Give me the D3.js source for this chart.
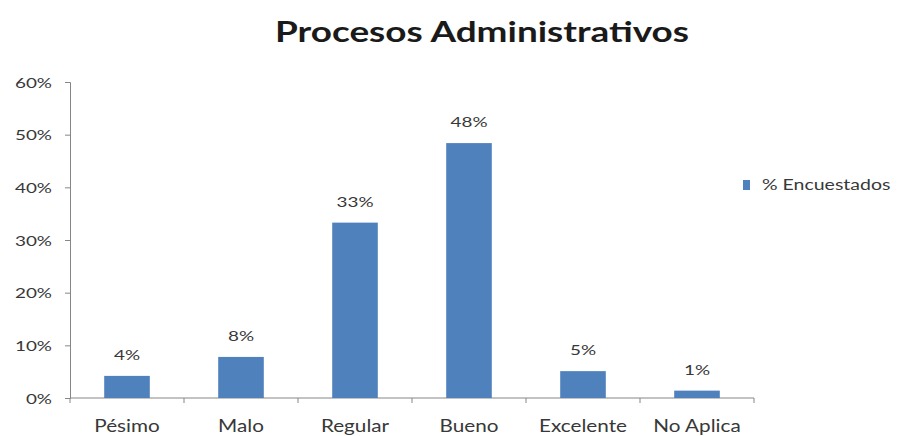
<!DOCTYPE html>
<html>
<head>
<meta charset="utf-8">
<script src="https://cdn.jsdelivr.net/npm/d3@7"></script>
<style>
  html, body { margin: 0; padding: 0; background: #ffffff; }
  svg { display: block; font-family: Lato, "Open Sans", sans-serif; }
</style>
</head>
<body>
<svg id="chart" width="899" height="436"></svg>
<script>
// Survey results: share of respondents per rating
const categories = ["Pésimo", "Malo", "Regular", "Bueno", "Excelente", "No Aplica"];
const respondentShare = [0.042, 0.078, 0.333, 0.484, 0.051, 0.014];
const yTicks = [0, 0.1, 0.2, 0.3, 0.4, 0.5, 0.6];
const seriesName = "% Encuestados";
const chartTitle = "Procesos Administrativos";

const svg = d3.select("#chart");
const textColor = "#383838";
const axisColor = "#868686";
const barColor = "#4f81bd";

const x = d3.scaleBand().domain(categories).range([70, 754]).padding(0);
const y = d3.scaleLinear().domain([0, 0.6]).range([398, 82]);
const pct = d3.format(".0%");

// Places a text at (px, py) with a wide, horizontally stretched face
function wideText(sel, px, py, sx) {
  sel.attr("x", 0).attr("y", 0)
    .attr("transform", function (d, i) {
      const tx = typeof px === "function" ? px(d, i) : px;
      const ty = typeof py === "function" ? py(d, i) : py;
      return `translate(${tx},${ty}) scale(${sx},1)`;
    });
}

// Title
svg.append("text")
  .attr("x", 482).attr("y", 42)
  .attr("text-anchor", "middle")
  .attr("font-size", 29).attr("font-weight", "bold")
  .attr("fill", "#1a1a1a")
  .attr("textLength", 414).attr("lengthAdjust", "spacingAndGlyphs")
  .text(chartTitle);

// Y axis
const yAxis = svg.append("g")
  .attr("transform", "translate(70,0)")
  .call(d3.axisLeft(y).tickValues(yTicks).tickFormat(pct).tickSize(5).tickPadding(13));
yAxis.select(".domain").attr("stroke", axisColor);
yAxis.selectAll(".tick line").attr("stroke", axisColor);
yAxis.selectAll(".tick text")
  .attr("font-family", "Lato, sans-serif").attr("font-size", 14).attr("fill", textColor)
  .attr("dy", "0.36em")
  .call(wideText, -18, 0, 1.35);

// X axis with ticks between categories
const xAxis = svg.append("g")
  .attr("transform", "translate(0,398)");
xAxis.append("line")
  .attr("x1", 70).attr("x2", 754)
  .attr("stroke", axisColor);
const boundaries = categories.map(c => x(c)).concat([x.range()[1]]);
xAxis.selectAll("line.tick")
  .data(boundaries)
  .join("line")
  .attr("class", "tick")
  .attr("x1", d => d).attr("x2", d => d)
  .attr("y1", 0).attr("y2", 5)
  .attr("stroke", axisColor);
xAxis.selectAll("text.cat")
  .data(categories)
  .join("text")
  .attr("class", "cat")
  .attr("text-anchor", "middle")
  .attr("font-size", 18)
  .attr("fill", textColor)
  .text(d => d)
  .call(wideText, d => x(d) + x.bandwidth() / 2, 34, 1.15);

// Bars
const barW = x.bandwidth() * 0.4;
const data = categories.map((c, i) => ({ cat: c, v: respondentShare[i] }));
svg.append("g").selectAll("rect")
  .data(data)
  .join("rect")
  .attr("x", d => x(d.cat) + (x.bandwidth() - barW) / 2)
  .attr("y", d => y(d.v))
  .attr("width", barW)
  .attr("height", d => y(0) - y(d.v))
  .attr("fill", barColor);

// Value labels
svg.append("g").selectAll("text")
  .data(data)
  .join("text")
  .attr("text-anchor", "middle")
  .attr("font-size", 14)
  .attr("fill", textColor)
  .text(d => pct(d.v))
  .call(wideText, d => x(d.cat) + x.bandwidth() / 2, d => y(d.v) - 16, 1.35);

// Legend
const legend = svg.append("g").attr("transform", "translate(743,180)");
legend.append("rect")
  .attr("x", 0).attr("y", 0).attr("width", 7).attr("height", 10)
  .attr("fill", barColor);
legend.append("text")
  .attr("font-size", 15)
  .attr("fill", textColor)
  .text(seriesName)
  .call(wideText, 19, 10, 1.3);
</script>
</body>
</html>
